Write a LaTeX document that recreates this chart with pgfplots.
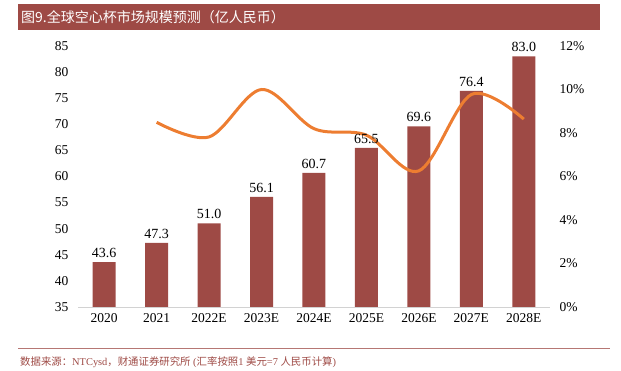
\documentclass[border=0pt]{standalone}
\usepackage{fontspec}
\setmainfont{Liberation Serif}
\newfontfamily\cjk{Noto Sans CJK SC}
\usepackage{pgfplots}
\pgfplotsset{compat=1.18}
\definecolor{barred}{RGB}{158,74,69}
\definecolor{lineor}{RGB}{237,125,49}
\definecolor{axgray}{RGB}{210,210,210}
\begin{document}
\begin{tikzpicture}
\path[use as bounding box] (0pt,0pt) rectangle (621pt,-371pt);
\fill[barred] (18pt,-4pt) rectangle (600pt,-30pt);
\node[anchor=west,text=white,inner sep=0pt,font=\cjk\fontsize{14}{14}\selectfont] at (21pt,-17pt) {图9.全球空心杯市场规模预测（亿人民币）};
\draw[barred!75, line width=0.8pt] (18pt,-348pt) -- (610pt,-348pt);
\node[anchor=west, text=barred, inner sep=0pt, font=\fontsize{10.4}{10.4}\selectfont] at (20pt,-362pt) {{\cjk 数据来源：}NTCysd{\cjk ，财通证券研究所} ({\cjk 汇率按照}1 {\cjk 美元}=7 {\cjk 人民币计算})};
\begin{axis}[
  at={(78pt,-307pt)}, anchor=south west, scale only axis,
  width=472pt, height=261pt,
  xmin=-0.5, xmax=8.5, ymin=35, ymax=85,
  axis x line*=bottom, axis y line*=left,
  y axis line style={draw=none},
  x axis line style={draw=axgray, line width=0.8pt},
  ytick={35,40,...,85},
  xtick={0,...,8},
  xticklabels={2020,2021,2022E,2023E,2024E,2025E,2026E,2027E,2028E},
  major tick length=0pt,
  /pgf/number format/assume math mode=true,
  ticklabel style={font=\fontsize{13.5}{13.5}\selectfont},
  yticklabel style={xshift=-6pt},
  xticklabel style={yshift=-3pt},
  clip=false,
]
\addplot[ybar, bar width=23pt, fill=barred, draw=none]
  coordinates {(0,43.6) (1,47.3) (2,51.0) (3,56.1) (4,60.7) (5,65.5) (6,69.6) (7,76.4) (8,83.0)};
\end{axis}
\begin{axis}[
  at={(78pt,-307pt)}, anchor=south west, scale only axis,
  width=472pt, height=261pt,
  xmin=-0.5, xmax=8.5, ymin=0, ymax=12,
  axis y line*=right, axis x line=none,
  y axis line style={draw=none},
  ytick={0,2,...,12},
  yticklabel={\pgfmathprintnumber{\tick}\%},
  major tick length=0pt,
  /pgf/number format/assume math mode=true,
  ticklabel style={font=\fontsize{13.5}{13.5}\selectfont},
  yticklabel style={xshift=6pt},
  clip=false,
]
\addplot[lineor, line width=3pt, smooth, tension=0.55]
  coordinates {(1,8.49) (2,7.82) (3,10.0) (4,8.2) (5,7.9) (6,6.26) (7,9.77) (8,8.64)};
\end{axis}
\begin{axis}[
  at={(78pt,-307pt)}, anchor=south west, scale only axis,
  width=472pt, height=261pt,
  xmin=-0.5, xmax=8.5, ymin=35, ymax=85,
  hide axis, clip=false,
]
\addplot[ybar, bar width=23pt, fill=none, draw=none,
  nodes near coords,
  nodes near coords style={font=\fontsize{14}{14}\selectfont, text=black, /pgf/number format/fixed, /pgf/number format/precision=1, /pgf/number format/fixed zerofill, /pgf/number format/assume math mode=true, yshift=1pt}]
  coordinates {(0,43.6) (1,47.3) (2,51.0) (3,56.1) (4,60.7) (5,65.5) (6,69.6) (7,76.4) (8,83.0)};
\end{axis}
\end{tikzpicture}
\end{document}
